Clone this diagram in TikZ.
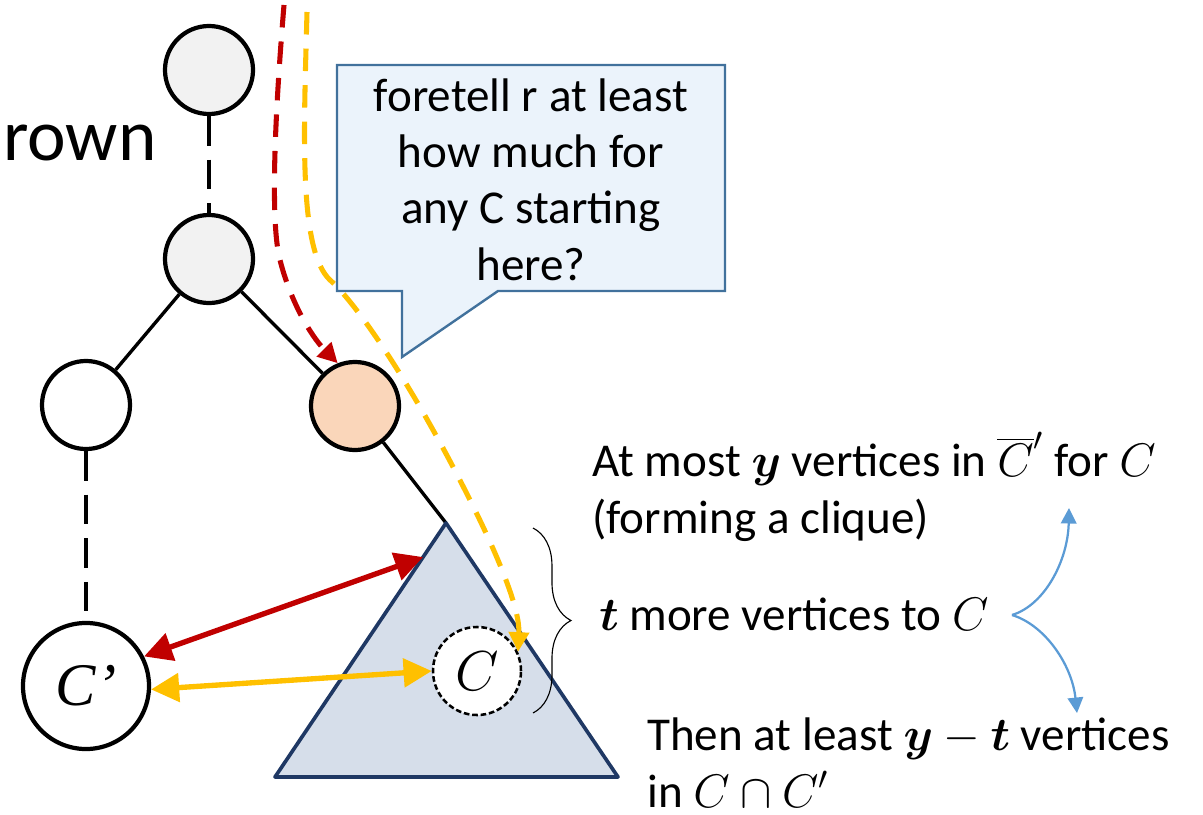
\RequirePackage{fix-cm}
\documentclass[tikz,border=0pt]{standalone}
\usepackage{amsmath}
\usepackage{fontspec}
\setmainfont{Carlito}
\newfontfamily\tnrfont{Liberation Serif}
\usetikzlibrary{arrows.meta,decorations.pathreplacing,calc}

\definecolor{nodegray}{RGB}{242,242,242}
\definecolor{peach}{RGB}{250,214,186}
\definecolor{redarr}{RGB}{192,0,0}
\definecolor{yelarr}{RGB}{255,192,0}
\definecolor{trifill}{RGB}{214,222,234}
\definecolor{triline}{RGB}{31,56,100}
\definecolor{bubfill}{RGB}{235,243,251}
\definecolor{bubline}{RGB}{65,113,156}
\definecolor{bluearr}{RGB}{91,155,213}

\tikzset{
  vert/.style={draw=black,line width=3pt,circle,minimum size=2.2cm,inner sep=0pt},
  treeedge/.style={line width=2.4pt},
  treedash/.style={line width=2.4pt,dash pattern=on 21pt off 10pt},
  walk/.style={line width=3.6pt,dash pattern=on 16pt off 10pt,-{Triangle[length=14pt,width=14pt]}},
  dblarrow/.style={line width=3.8pt,{Triangle[length=20pt,width=20pt]}-{Triangle[length=20pt,width=20pt]}},
  forkarrow/.style={line width=1.6pt,draw=bluearr,-{Triangle[length=11pt,width=11pt]}},
  txt/.style={font=\fontsize{33.5}{40}\selectfont,inner sep=0pt}
}

\begin{document}
\begin{tikzpicture}[x=0.025cm,y=-0.025cm]
\useasboundingbox (0,0) rectangle (1203,815);
% tree part
\node[vert,fill=nodegray] (v0) at (209,70) {};
\node[vert,fill=nodegray] (v1) at (209,259) {};
\node[vert,fill=white] (v2) at (86,405) {};
\node[vert,fill=peach] (v3) at (355,406) {};
\node[vert,fill=white,minimum size=3.15cm,font=\tnrfont\itshape\fontsize{43}{50}\selectfont] (cp) at (86,686) {C’};
\node[anchor=base west,inner sep=0pt,font=\fontsize{52}{60}\selectfont] (lbl) at (3,160) {rown};
\draw[treedash] (v0) -- (v1);
\draw[treeedge] (v1) -- (v2);
\draw[treeedge] (v1) -- (v3);
\draw[treedash] (v2) -- (cp);

% subtree below the orange vertex
\coordinate (apex) at (446,523);
\coordinate (bl) at (275,777);
\coordinate (br) at (618,777);
\draw[treeedge] (v3) -- (apex);
\draw[line width=2.6pt,draw=triline,fill=trifill,line join=round] (apex) -- (bl) -- (br) -- cycle;
\node[circle,draw=black,fill=white,line width=1.8pt,dash pattern=on 4pt off 2pt,minimum size=2.2cm,inner sep=0pt,font=\fontsize{40}{48}\selectfont] (c) at (477,671) {$C$};
\coordinate (btop) at (533,528);
\coordinate (bbot) at (533,713);
\draw[line width=0.8pt,decorate,decoration={brace,amplitude=27pt}] (btop) -- (bbot);

% comparisons with C'
\coordinate (hit) at ($(apex)!0.134!(bl)$);
\draw[dblarrow,redarr] (cp.27) -- (hit);
\draw[dblarrow,yelarr] (cp.-3) -- (c.west);

% search walks
\coordinate (rtop) at (284,5);
\coordinate (ytop) at (307,12);
\draw[walk,redarr] (rtop) .. controls (272,150) and (272,230) .. (280,260) .. controls (290,300) and (310,335) .. (v3.112);
\draw[walk,yelarr] (ytop) .. controls (304,130) and (298,250) .. (330,280) .. controls (355,302) and (410,380) .. (470,500) .. controls (500,560) and (520,610) .. (c.25);

% callout
\draw[line width=1.7pt,draw=bubline,fill=bubfill,line join=miter] (337,65) -- (725,65) -- (725,291) -- (498,291) -- (402,357) -- (402,291) -- (337,291) -- cycle;
\node[txt,anchor=base,align=center] (ask) at (531,280) {foretell r at least\\how much for\\any C starting\\here?};

% right side
\node[txt,anchor=base west,align=left] (atmost) at (592,533) {At most $\boldsymbol{y}$ vertices in $\overline{C}'$ for $C$\\(forming a clique)};
\node[txt,anchor=base west] (tmore) at (599,630) {$\boldsymbol{t}$ more vertices to $C$};
\node[txt,anchor=base west,align=left] (then) at (647,807) {Then at least $\boldsymbol{y}-\boldsymbol{t}$ vertices\\in $C\cap C'$};
\coordinate (fork) at (1012,615);
\coordinate (up) at (1069,508);
\coordinate (down) at (1077,713);
\draw[forkarrow] (fork) .. controls (1045,605) and (1068,560) .. (up);
\draw[forkarrow] (fork) .. controls (1045,625) and (1072,665) .. (down);
\end{tikzpicture}
\end{document}
